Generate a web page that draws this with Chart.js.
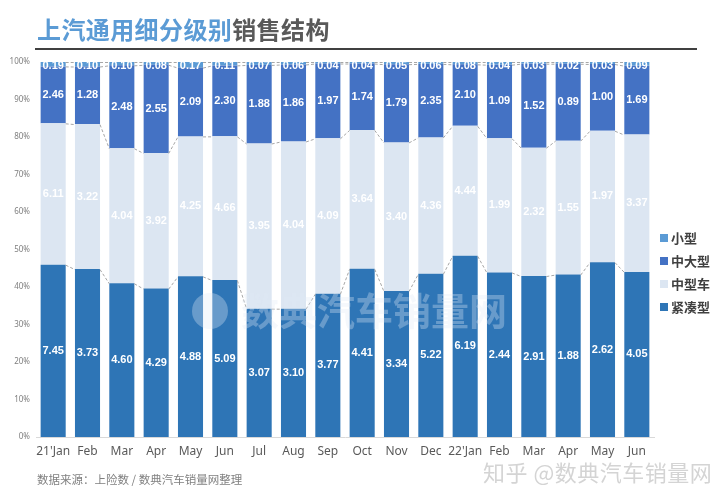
<!DOCTYPE html>
<html>
<head>
<meta charset="utf-8">
<script src="https://cdn.jsdelivr.net/npm/chart.js@4/dist/chart.umd.min.js"></script>
<style>
  html, body { margin: 0; padding: 0; background: #ffffff; }
  #wrap { position: relative; width: 720px; height: 495px; overflow: hidden; font-family: "Noto Sans CJK SC", "Noto Sans", sans-serif; }
  #c { position: absolute; left: 0; top: 0; }
  #title { position: absolute; left: 37px; top: 12px; font-size: 24px; font-weight: bold; letter-spacing: 0.4px; line-height: 34px; white-space: nowrap; }
  #title .a { color: #5b9bd5; }
  #title .b { color: #595959; }
  #rule { position: absolute; left: 35px; top: 48px; width: 662px; height: 2px; background: #404040; }
  #legend { position: absolute; left: 660px; top: 226px; }
  .li { height: 23px; display: flex; align-items: center; font-size: 13px; font-weight: bold; color: #404040; white-space: nowrap; }
  .li i { display: inline-block; width: 8px; height: 8px; margin-right: 3px; }
  #src { position: absolute; left: 37px; top: 471px; font-size: 11.5px; color: #808080; white-space: nowrap; }
  #zh { position: absolute; left: 483px; top: 455px; font-size: 22px; color: #d4d4d4; white-space: nowrap; letter-spacing: 0.5px; }
</style>
</head>
<body>
<div id="wrap">
  <canvas id="c" width="720" height="495"></canvas>
  <div id="title"><span class="a">上汽通用细分级别</span><span class="b">销售结构</span></div>
  <div id="rule"></div>
  <div id="legend"></div>
  <div id="src">数据来源：上险数 / 数典汽车销量网整理</div>
  <div id="zh">知乎 @数典汽车销量网</div>
</div>
<script>
const categories = ["21'Jan","Feb","Mar","Apr","May","Jun","Jul","Aug","Sep","Oct","Nov","Dec","22'Jan","Feb","Mar","Apr","May","Jun"];
const compact   = [7.45,3.73,4.60,4.29,4.88,5.09,3.07,3.10,3.77,4.41,3.34,5.22,6.19,2.44,2.91,1.88,2.62,4.05];
const midsize   = [6.11,3.22,4.04,3.92,4.25,4.66,3.95,4.04,4.09,3.64,3.40,4.36,4.44,1.99,2.32,1.55,1.97,3.37];
const midlarge  = [2.46,1.28,2.48,2.55,2.09,2.30,1.88,1.86,1.97,1.74,1.79,2.35,2.10,1.09,1.52,0.89,1.00,1.69];
const small     = [0.19,0.10,0.10,0.08,0.17,0.11,0.07,0.06,0.04,0.04,0.05,0.06,0.08,0.04,0.03,0.02,0.03,0.09];
const seriesNames = ["紧凑型","中型车","中大型","小型"];
const yTicks = ["0%","10%","20%","30%","40%","50%","60%","70%","80%","90%","100%"];

const seriesValues = [compact, midsize, midlarge, small];
const colors = ["#2e75b6", "#dce6f2", "#4472c4", "#5b9bd5"];
const totals = categories.map((_, i) => seriesValues.reduce((s, arr) => s + arr[i], 0));

const datasets = seriesValues.map((arr, d) => ({
  label: seriesNames[d],
  data: arr.map((v, i) => v / totals[i] * 100),
  raw: arr,
  backgroundColor: colors[d],
  borderWidth: 0,
  barPercentage: 0.73,
  categoryPercentage: 1.0
}));

// HTML legend (reverse order: 小型, 中大型, 中型车, 紧凑型)
const lg = document.getElementById('legend');
for (let d = seriesNames.length - 1; d >= 0; d--) {
  const row = document.createElement('div');
  row.className = 'li';
  row.innerHTML = '<i style="background:' + colors[d] + '"></i>' + seriesNames[d];
  lg.appendChild(row);
}

const overlay = {
  id: 'overlay',
  afterDatasetsDraw(chart) {
    const ctx = chart.ctx;
    const ca = chart.chartArea;
    // series lines
    ctx.save();
    ctx.strokeStyle = '#a6a6a6';
    ctx.lineWidth = 1;
    ctx.setLineDash([3, 2]);
    chart.data.datasets.forEach((ds, d) => {
      const meta = chart.getDatasetMeta(d);
      for (let i = 0; i < meta.data.length - 1; i++) {
        const a = meta.data[i], b = meta.data[i + 1];
        ctx.beginPath();
        ctx.moveTo(a.x + a.width / 2, a.y + 0.5);
        ctx.lineTo(b.x - b.width / 2, b.y + 0.5);
        ctx.stroke();
      }
    });
    ctx.restore();

    // watermark
    ctx.save();
    const cx = 210, cy = 311;
    ctx.fillStyle = 'rgba(225,235,247,0.33)';
    ctx.beginPath();
    ctx.arc(cx, cy, 18, 0, Math.PI * 2);
    ctx.fill();
    ctx.font = 'bold 38px "Noto Sans CJK SC"';
    ctx.textBaseline = 'middle';
    ctx.textAlign = 'left';
    ctx.fillText('数典汽车销量网', 241, cy);
    ctx.restore();

    // data labels
    ctx.save();
    ctx.font = 'bold 11px "Liberation Sans", Arial, sans-serif';
    ctx.fillStyle = '#ffffff';
    ctx.textAlign = 'center';
    ctx.textBaseline = 'middle';
    chart.data.datasets.forEach((ds, d) => {
      const meta = chart.getDatasetMeta(d);
      meta.data.forEach((el, i) => {
        const y = (el.y + el.base) / 2;
        ctx.fillText(ds.raw[i].toFixed(2), el.x, Math.max(y, ca.top + 4));
      });
    });
    ctx.restore();
  }
};

new Chart(document.getElementById('c'), {
  type: 'bar',
  data: { labels: categories, datasets },
  options: {
    responsive: false,
    animation: false,
    layout: { padding: { left: 0, right: 66, top: 62, bottom: 0 } },
    plugins: { legend: { display: false }, tooltip: { enabled: false }, title: { display: false } },
    scales: {
      x: {
        stacked: true,
        grid: { display: false, drawTicks: false },
        border: { display: true, color: '#d9d9d9' },
        ticks: { color: '#595959', font: { size: 12, family: '"Noto Sans", sans-serif' }, padding: 7, maxRotation: 0, autoSkip: false },
        afterFit(s) { s.height = 58; }
      },
      y: {
        stacked: true,
        min: 0, max: 100,
        grid: { display: false, drawTicks: false },
        border: { display: false },
        ticks: { stepSize: 10, color: '#7f7f7f', font: { size: 8, family: '"Noto Sans", sans-serif' }, padding: 6,
                 callback: (v) => yTicks[Math.round(v / 10)] },
        afterFit(s) { s.width = 36; }
      }
    }
  },
  plugins: [overlay]
});
</script>
</body>
</html>
